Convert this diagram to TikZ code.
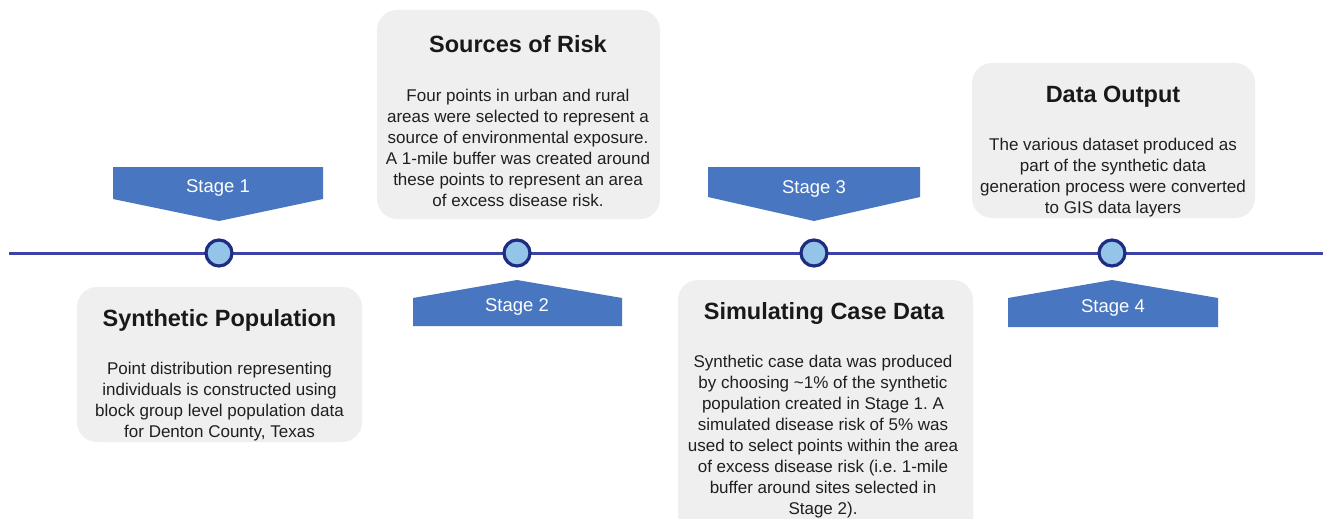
\documentclass[tikz,border=0pt]{standalone}
\usepackage{fontspec}
\setmainfont{Liberation Sans}
\frenchspacing
\definecolor{lineblue}{RGB}{60,66,166}
\definecolor{ringblue}{RGB}{30,44,130}
\definecolor{dotfill}{RGB}{148,196,232}
\definecolor{stageblue}{RGB}{72,118,192}
\definecolor{cardgray}{RGB}{239,239,239}
\tikzset{
  card/.style={fill=cardgray, rounded corners=20pt, inner sep=0pt},
  cardtitle/.style={font=\bfseries\fontsize{23.5}{28}\selectfont, text=black!90, inner sep=0pt},
  cardbody/.style={font=\fontsize{17}{21}\selectfont, align=center, text=black!88, inner sep=0pt},
  stagetext/.style={font=\fontsize{18.5}{22}\selectfont, text=white, inner sep=0pt},
  stagebox/.style={fill=stageblue},
  milestone/.style={circle, draw=ringblue, line width=3.2pt, fill=dotfill, minimum size=26pt, inner sep=0pt},
  timeline/.style={draw=lineblue, line width=3pt}
}
\begin{document}
\begin{tikzpicture}[x=1pt,y=-1pt]
\clip (0,0) rectangle (1323,519);
\fill[white] (0,0) rectangle (1323,519);

% information cards
\fill[card] (77,287) rectangle (362,442);
\fill[card] (377,10) rectangle (660,219);
\fill[card] (678,280) rectangle (973,540);
\fill[card] (972,63) rectangle (1255,218);

\node[cardtitle] (t1) at (219.5,320) {Synthetic Population};
\node[cardbody] (b1) at (219.5,401.5) {Point distribution representing\\individuals is constructed using\\block group level population data\\for Denton County, Texas};

\node[cardtitle] (t2) at (518,44) {Sources of Risk};
\node[cardbody] (b2) at (518,148) {Four points in urban and rural\\areas were selected to represent a\\source of environmental exposure.\\A 1-mile buffer was created around\\these points to represent an area\\of excess disease risk.};

\node[cardtitle] (t3) at (824,313) {Simulating Case Data};
\node[cardbody] (b3) at (823,437) {Synthetic case data was produced\\by choosing \textasciitilde1\% of the synthetic\\population created in Stage 1. A\\simulated disease risk of 5\% was\\used to select points within the area\\of excess disease risk (i.e. 1-mile\\buffer around sites selected in\\Stage 2).};

\node[cardtitle] (t4) at (1113,97) {Data Output};
\node[cardbody] (b4) at (1113,178) {The various dataset produced as\\part of the synthetic data\\generation process were converted\\to GIS data layers};

% timeline with milestones
\coordinate (lstart) at (9,253);
\coordinate (lend) at (1323,253);
\draw[timeline] (lstart) -- (lend);
\node[milestone] (m1) at (219,253) {};
\node[milestone] (m2) at (517,253) {};
\node[milestone] (m3) at (814,253) {};
\node[milestone] (m4) at (1112,253) {};

% stage markers
\fill[stagebox] (113,167) -- (323,167) -- (323,199) -- (219,221) -- (113,199) -- cycle;
\node[stagetext] (s1) at (218,188) {Stage 1};
\fill[stagebox] (413,326) -- (622,326) -- (622,298) -- (517,280) -- (413,298) -- cycle;
\node[stagetext] (s2) at (517,307) {Stage 2};
\fill[stagebox] (708,167) -- (920,167) -- (920,197) -- (814,221) -- (708,197) -- cycle;
\node[stagetext] (s3) at (814,189) {Stage 3};
\fill[stagebox] (1008,327) -- (1218,327) -- (1218,298) -- (1112,280) -- (1008,298) -- cycle;
\node[stagetext] (s4) at (1113,308) {Stage 4};
\end{tikzpicture}
\end{document}
